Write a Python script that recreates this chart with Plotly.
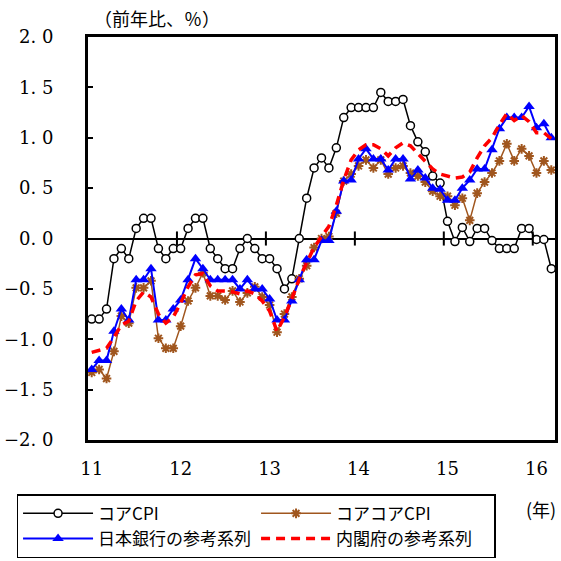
import plotly.graph_objects as go

# ---- data (y/y %, monthly Jan 2011 - Mar 2016) ----
months = [f"{y}-{m:02d}" for y in range(2011, 2017) for m in range(1, 13)][:63]

core_cpi = [
    -0.8, -0.8, -0.7, -0.2, -0.1, -0.2, 0.1, 0.2, 0.2, -0.1, -0.2, -0.1,
    -0.1, 0.1, 0.2, 0.2, -0.1, -0.2, -0.3, -0.3, -0.1, 0.0, -0.1, -0.2,
    -0.2, -0.3, -0.5, -0.4, 0.0, 0.4, 0.7, 0.8, 0.7, 0.9, 1.2, 1.3,
    1.3, 1.3, 1.3, 1.45, 1.36, 1.36, 1.38, 1.12, 0.96, 0.86, 0.62, 0.55,
    0.17, -0.03, 0.11, -0.03, 0.1, 0.1, -0.02, -0.1, -0.1, -0.1, 0.1, 0.1,
    -0.01, -0.01, -0.3,
]
core_core_cpi = [
    -1.33, -1.3, -1.39, -1.12, -0.77, -0.84, -0.49, -0.49, -0.42, -0.99, -1.09, -1.09,
    -0.87, -0.62, -0.49, -0.34, -0.57, -0.57, -0.61, -0.52, -0.63, -0.54, -0.48, -0.58,
    -0.66, -0.93, -0.75, -0.58, -0.4, -0.27, -0.09, 0.0, 0.02, 0.25, 0.57, 0.64,
    0.72, 0.78, 0.7, 0.78, 0.64, 0.7, 0.72, 0.65, 0.62, 0.56, 0.47, 0.42,
    0.42, 0.33, 0.4, 0.18, 0.45, 0.56, 0.65, 0.77, 0.94, 0.77, 0.89, 0.82,
    0.65, 0.77, 0.68,
]
boj_ref = [
    -1.3, -1.21, -1.21, -0.92, -0.7, -0.81, -0.41, -0.41, -0.3, -0.81, -0.81, -0.7,
    -0.61, -0.41, -0.2, -0.3, -0.41, -0.41, -0.41, -0.41, -0.5, -0.41, -0.5, -0.5,
    -0.6, -0.81, -0.81, -0.62, -0.41, -0.21, -0.21, -0.02, -0.02, 0.27, 0.57, 0.58,
    0.79, 0.89, 0.79, 0.79, 0.68, 0.79, 0.79, 0.59, 0.68, 0.6, 0.5, 0.49,
    0.38, 0.38, 0.5, 0.58, 0.69, 0.69, 0.88, 1.09, 1.2, 1.2, 1.2, 1.31,
    1.1, 1.14, 1.0,
]
cao_ref = [
    -1.13, -1.11, -1.09, -0.98, -0.86, -0.82, -0.62, -0.53, -0.58, -0.75, -0.84, -0.78,
    -0.64, -0.48, -0.36, -0.35, -0.47, -0.52, -0.52, -0.53, -0.55, -0.52, -0.55, -0.62,
    -0.72, -0.92, -0.78, -0.6, -0.4, -0.24, -0.09, 0.02, 0.12, 0.33, 0.58, 0.78,
    0.88, 0.93, 0.93, 0.89, 0.82, 0.9, 0.95, 0.92, 0.84, 0.76, 0.69, 0.64,
    0.62, 0.6, 0.61, 0.66, 0.8, 0.92, 1.0, 1.13, 1.24, 1.17, 1.22, 1.16,
    1.05, 1.05, 0.99,
]

series_names = ["コアCPI", "コアコアCPI", "日本銀行の参考系列", "内閣府の参考系列"]
year_labels = ["11", "12", "13", "14", "15", "16"]
y_ticks = [2.0, 1.5, 1.0, 0.5, 0.0, -0.5, -1.0, -1.5, -2.0]
y_ticktext = ["2. 0", "1. 5", "1. 0", "0. 5", "0. 0", "−0. 5", "−1. 0", "−1. 5", "−2. 0"]

SERIF = "DejaVu Serif, serif"
CJK = "Noto Sans CJK JP"

fig = go.Figure()
fig.add_trace(go.Scatter(
    x=months, y=core_cpi, name=series_names[0], mode="lines+markers",
    line=dict(color="black", width=1.5),
    marker=dict(symbol="circle", size=8, color="white", line=dict(color="black", width=1.5)),
))
fig.add_trace(go.Scatter(
    x=months, y=core_core_cpi, name=series_names[1], mode="lines+markers",
    line=dict(color="#A0561E", width=1.5),
    marker=dict(symbol="asterisk-open", size=8, color="#A0561E", line=dict(color="#A0561E", width=2)),
))
fig.add_trace(go.Scatter(
    x=months, y=boj_ref, name=series_names[2], mode="lines+markers",
    line=dict(color="#0000FF", width=2),
    marker=dict(symbol="triangle-up", size=10, color="#0000FF"),
))
fig.add_trace(go.Scatter(
    x=months, y=cao_ref, name=series_names[3], mode="lines",
    line=dict(color="#FF0000", width=3.5, dash="9px,6px"),
))

# small year-boundary ticks on the zero line
shapes = []
for k in range(1, len(year_labels)):
    xb = 12 * k - 0.5
    shapes.append(dict(type="line", xref="x", yref="y", x0=xb, x1=xb, y0=-0.07, y1=0.07,
                       line=dict(color="black", width=2)))

fig.update_layout(
    width=561, height=561,
    margin=dict(l=88, r=3, t=37, b=116),
    paper_bgcolor="white", plot_bgcolor="white",
    shapes=shapes,
    showlegend=True,
    legend=dict(
        orientation="h", x=-0.153, y=-0.1348, xanchor="left", yanchor="top",
        bordercolor="black", borderwidth=1.5, bgcolor="white",
        font=dict(family=CJK, size=17, color="black"),
        itemwidth=70, entrywidth=153, entrywidthmode="pixels",
        traceorder="normal",
    ),
    annotations=[
        dict(text="（前年比、％）", xref="paper", yref="paper", x=(92 - 88) / 470, y=(561 - 116 - 18) / 408,
             xanchor="left", yanchor="middle", showarrow=False,
             font=dict(family=CJK, size=18, color="black")),
        dict(text="(年)", xref="paper", yref="paper", x=(544 - 88) / 470, y=-(515 - 445) / 408,
             xanchor="center", yanchor="middle", showarrow=False,
             font=dict(family=CJK, size=18, color="black")),
    ],
)

fig.update_xaxes(
    type="category", categoryorder="array", categoryarray=months,
    range=[-0.5, len(months) - 0.5],
    tickmode="array", tickvals=[months[12 * i] for i in range(len(year_labels))], ticktext=year_labels,
    ticks="", showgrid=False, zeroline=False,
    showline=True, linecolor="black", linewidth=3, mirror=True,
    tickfont=dict(family=SERIF, size=18, color="black"), ticklabelstandoff=10,
)
fig.update_yaxes(
    range=[-2, 2], tickmode="array", tickvals=y_ticks, ticktext=y_ticktext,
    ticks="inside", ticklen=5, tickwidth=2, tickcolor="black",
    showgrid=False, zeroline=True, zerolinecolor="black", zerolinewidth=2,
    showline=True, linecolor="black", linewidth=3, mirror=True,
    tickfont=dict(family=SERIF, size=18, color="black"), ticklabelstandoff=28,
)

fig.write_html("out.html", config={"displayModeBar": False},
               post_script="document.body.style.margin='0';")
